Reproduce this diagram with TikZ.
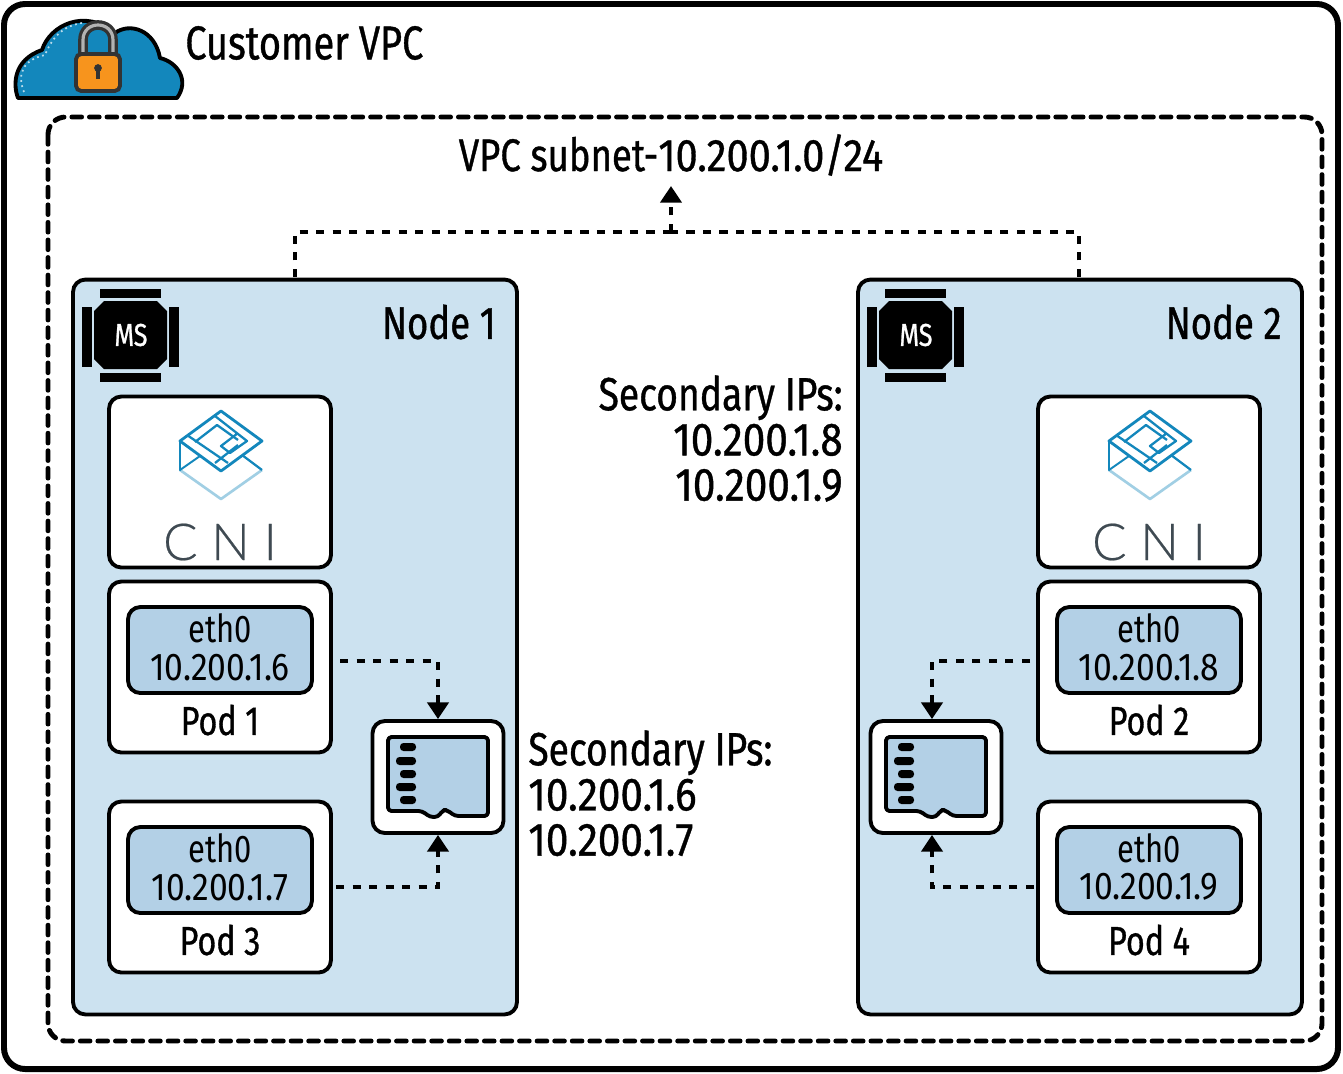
\documentclass[tikz,border=0pt]{standalone}
\usepackage{fontspec}
\setmainfont[FakeStretch=0.8]{Fira Sans}
\newfontfamily\medfont[FakeStretch=0.8,FakeBold=0.8]{Fira Sans}
\newfontfamily\ipfont[FakeStretch=0.87]{Fira Sans}
\newfontfamily\ipfontmed[FakeStretch=0.87,FakeBold=0.8]{Fira Sans}
\newfontfamily\cnifont[UprightFont=* Light,FakeBold=0.4]{Lato}
\usetikzlibrary{arrows.meta}

\definecolor{nodeblue}{HTML}{CCE2F0}
\definecolor{cellblue}{HTML}{B3D0E6}
\definecolor{cloudblue}{HTML}{1387BC}
\definecolor{lockorange}{HTML}{F7941D}
\definecolor{cnigray}{HTML}{3F4A52}

\tikzset{
  cardline/.style={black, line width=2.2pt, line join=round, rounded corners=2pt},
  mschip/.pic={
    \fill[black] (94,311) -- (104,301) -- (157,301) -- (167,311) -- (167,359) -- (157,369) -- (104,369) -- (94,359) -- cycle;
    \fill[black] (100,289) rectangle (161,298);
    \fill[black] (100,373) rectangle (161,382);
    \fill[black] (82,307) rectangle (92,367);
    \fill[black] (169,307) rectangle (179,367);
  },
  cnilogo/.pic={
    \draw[cloudblue!40, line width=1.5pt, line join=round] (180,470) -- (221,499) -- (262,470);
    \draw[cloudblue, line width=1.1pt, line join=round] (180,441) -- (180,470) -- (200,456);
    \draw[cloudblue, line width=1.3pt] (242,455) -- (262,470);
    \draw[cloudblue, line width=1.6pt, line join=round] (221,411) -- (262,441) -- (221,471) -- (180,441) -- cycle;
    \draw[cloudblue, line width=1.3pt, line join=round] (215,416) -- (247,441) -- (230,453) -- (221,446) -- (238,433);
    \draw[cloudblue, line width=1.3pt] (187,435) -- (228,463);
    \draw[cloudblue, line width=1.3pt, line join=round] (195,442) -- (217,425) -- (238,440);
    \draw[cloudblue, line width=1.3pt] (215,463) -- (238,445);
  },
  simcard/.pic={
    \draw[cardline, fill=cellblue] (388,737) -- (488,737) -- (488,816) -- (455,816) -- (447,810) -- (443,810) -- (438,817) -- (430,817) -- (422,811) -- (388,811) -- cycle;
    \foreach \yy/\xx in {747/400,761/396,774/400,787/396,800/400} {
      \fill[black, rounded corners=2pt] (\xx,\yy-4) rectangle (416,\yy+4);
    }
  }
}

\begin{document}
\begin{tikzpicture}[x=0.02cm, y=-0.02cm]
\tikzstyle{outerbox}=[draw=black, line width=3.4pt, rounded corners=12pt]
\tikzstyle{subnetbox}=[draw=black, line width=2.8pt, rounded corners=10pt, dash pattern=on 5.5pt off 4.5pt, line cap=round]
\tikzstyle{hostbox}=[draw=black, line width=2.2pt, fill=nodeblue, rounded corners=7pt, minimum width=8.88cm, minimum height=14.7cm, inner sep=0pt]
\tikzstyle{podbox}=[draw=black, line width=2.2pt, fill=white, rounded corners=7pt, minimum width=4.44cm, minimum height=3.42cm, inner sep=0pt]
\tikzstyle{ethbox}=[draw=black, line width=2.2pt, fill=cellblue, rounded corners=7pt, minimum width=3.68cm, minimum height=1.72cm, inner sep=0pt]
\tikzstyle{ethlab}=[inner sep=0pt, align=center, font=\fontsize{22}{21.5}\selectfont]
\tikzstyle{simbox}=[draw=black, line width=2.2pt, fill=white, rounded corners=7pt, minimum width=2.62cm, minimum height=2.24cm, inner sep=0pt]
\tikzstyle{title}=[inner sep=0pt, font=\medfont\fontsize{27}{27}\selectfont]
\tikzstyle{iplist}=[inner sep=0pt, align=left, font=\medfont\fontsize{26.5}{25.7}\selectfont]
\tikzstyle{podlab}=[inner sep=0pt, font=\medfont\fontsize{23}{23}\selectfont]
\tikzstyle{mslab}=[text=white, inner sep=0pt, font=\medfont\fontsize{18}{18}\selectfont]
\tikzstyle{cnilab}=[text=cnigray, inner sep=0pt, font=\cnifont\fontsize{29}{29}\selectfont\addfontfeature{LetterSpace=27}]
\tikzstyle{dashconn}=[-{Triangle[length=9.5pt,width=12pt]}, black, line width=2.2pt, dash pattern=on 4.7pt off 4.7pt]
\tikzstyle{dashlink}=[black, line width=2.2pt, dash pattern=on 4.7pt off 4.7pt]

\useasboundingbox (0,0) rectangle (1343,1073);

% Cajas exteriores
\draw[outerbox] (4,4) rectangle (1338,1069);
\draw[subnetbox] (48,117) rectangle (1322,1041);

% Nube con candado
\draw[fill=cloudblue, draw=black, line width=2.2pt, line join=round] (18,98) .. controls (13,85) and (13,60) .. (42,50) .. controls (50,25) and (85,8) .. (115,33) .. controls (130,22) and (155,30) .. (160,58) .. controls (177,62) and (190,80) .. (177,98) -- cycle;
\draw[white!70!cloudblue, line width=1pt, dotted] (24,92) .. controls (17,75) and (22,60) .. (45,55) .. controls (52,38) and (62,26) .. (82,23);
\draw[black!80, line width=5.5pt] (83,55) -- (83,40) .. controls (83,20) and (113,20) .. (113,40) -- (113,55);
\draw[black!30, line width=1.8pt] (83,55) -- (83,40) .. controls (83,20) and (113,20) .. (113,40) -- (113,55);
\draw[black!80, fill=lockorange, line width=2.2pt, rounded corners=3pt] (76,54) rectangle (120,91);
\fill[black!80] (98,68) circle (2.2pt);
\fill[black!80] (96,68) rectangle (100,79);

\node[title, anchor=west] (vpc) at (185,43) {Customer VPC};
\node[title, font=\medfont\fontsize{26}{26}\selectfont] (subnet) at (671,155) {VPC subnet-{\ipfontmed 10.200.1.0/24}};

% Nodos
\node[hostbox] (node1) at (295,647) {};
\node[hostbox] (node2) at (1080,647) {};
\node[title, anchor=east, font=\medfont\fontsize{26}{26}\selectfont] (node1lab) at (496,322) {Node 1};
\node[title, anchor=east, font=\medfont\fontsize{26}{26}\selectfont] (node2lab) at (1282,322) {Node 2};

\pic at (0,0) {mschip};
\pic at (785,0) {mschip};
\node[mslab] (ms1) at (131,335) {MS};
\node[mslab] (ms2) at (916,335) {MS};

% CNI
\node[podbox] (cni1) at (220,482) {};
\node[podbox] (cni2) at (1149,482) {};
\pic at (0,0) {cnilogo};
\pic at (929,0) {cnilogo};
\node[cnilab] (cnilab1) at (220,542) {CNI};
\node[cnilab] (cnilab2) at (1149,542) {CNI};

% Pods
\node[podbox] (pod1) at (220,667) {};
\node[podbox] (pod3) at (220,887) {};
\node[podbox] (pod2) at (1149,667) {};
\node[podbox] (pod4) at (1149,887) {};
\node[ethbox] (eth1) at (220,650) {};
\node[ethbox] (eth3) at (220,870) {};
\node[ethbox] (eth2) at (1149,650) {};
\node[ethbox] (eth4) at (1149,870) {};
\node[ethlab] (eth1lab) at (220,647) {eth0\\{\ipfont 10.200.1.6}};
\node[ethlab] (eth3lab) at (220,867) {eth0\\{\ipfont 10.200.1.7}};
\node[ethlab] (eth2lab) at (1149,647) {eth0\\{\ipfont 10.200.1.8}};
\node[ethlab] (eth4lab) at (1149,867) {eth0\\{\ipfont 10.200.1.9}};
\node[podlab] (pod1lab) at (220,720) {Pod 1};
\node[podlab] (pod3lab) at (220,940) {Pod 3};
\node[podlab] (pod2lab) at (1149,720) {Pod 2};
\node[podlab] (pod4lab) at (1149,940) {Pod 4};

% Tarjetas de red
\node[simbox] (sim1) at (438,777) {};
\node[simbox] (sim2) at (936,777) {};
\pic at (0,0) {simcard};
\pic at (498,0) {simcard};

% Textos de IPs
\node[iplist, anchor=north east, align=right] (ips2) at (843,375) {Secondary IPs:\\{\ipfontmed 10.200.1.8}\\{\ipfontmed 10.200.1.9}};
\node[iplist, anchor=north west] (ips1) at (528,730) {Secondary IPs:\\{\ipfontmed 10.200.1.6}\\{\ipfontmed 10.200.1.7}};

% Conexiones
\coordinate (p1out) at (340,661);
\coordinate (p3out) at (336,887);
\coordinate (p2out) at (1030,661);
\coordinate (p4out) at (1034,887);
\coordinate (n1top) at (295,277);
\coordinate (n2top) at (1079,277);
\coordinate (mid) at (671,232);
\coordinate (midtop) at (671,186);
\draw[dashconn] (p1out) -| (sim1.north);
\draw[dashconn] (p3out) -| (sim1.south);
\draw[dashconn] (p2out) -| ([xshift=-0.08cm]sim2.north);
\draw[dashconn] (p4out) -| ([xshift=-0.08cm]sim2.south);
\draw[dashlink] (n1top) |- (mid);
\draw[dashlink] (n2top) |- (mid);
\draw[dashconn] (mid) -- (midtop);

\end{tikzpicture}
\end{document}
